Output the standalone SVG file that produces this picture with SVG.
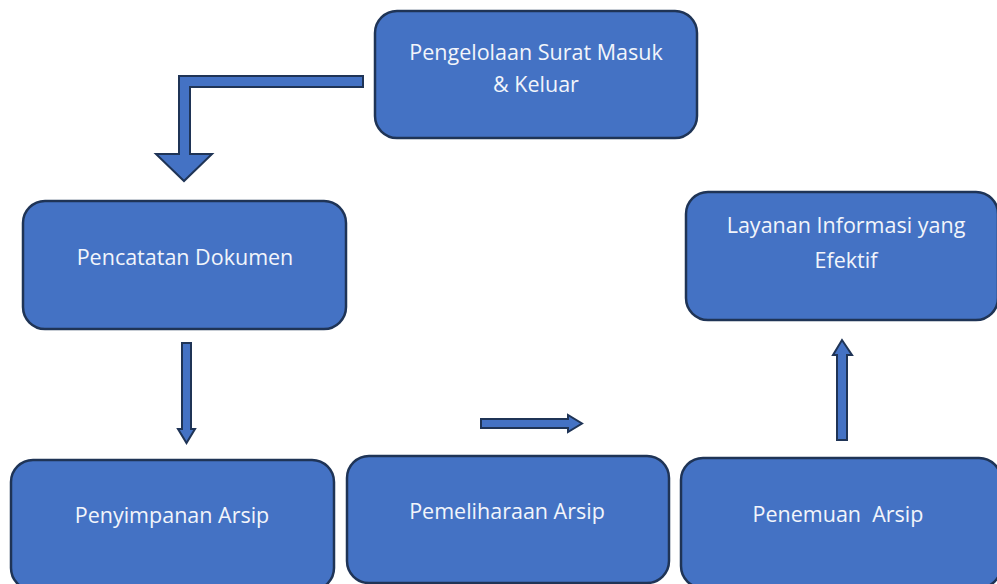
<svg xmlns="http://www.w3.org/2000/svg" width="997" height="584" viewBox="0 0 997 584">
<style>
.box{fill:#4472c4;stroke:#1f3456;stroke-width:2.5}
.arr{fill:#4472c4;stroke:#1f3456;stroke-width:2;stroke-linejoin:miter}
text{font-family:"Open Sans","Noto Sans","Liberation Sans",sans-serif;font-size:21.5px;fill:#f2f5fb;text-anchor:middle}
</style>
<rect width="997" height="584" fill="#ffffff"/>
<g id="connectors">
<path class="arr" d="M363,76 L363,87 L190,87 L190,154 L212,154 L184,181 L156,154 L179,154 L179,76 Z"/>
<path class="arr" d="M182,343 L191,343 L191,429 L195,429 L186.5,443 L178,429 L182,429 Z"/>
<path class="arr" d="M481,419 L568,419 L568,415 L582,423.5 L568,432 L568,428 L481,428 Z"/>
<path class="arr" d="M837,440 L837,355 L833,355 L842,340 L852,355 L847,355 L847,440 Z"/>
</g>
<g id="node-pengelolaan">
<rect class="box" x="375" y="11" width="322" height="127" rx="22"/>
<text x="536" y="60">Pengelolaan Surat Masuk</text>
<text x="536" y="92">&amp; Keluar</text>
</g>
<g id="node-pencatatan">
<rect class="box" x="23" y="201" width="323" height="128" rx="22"/>
<text x="185" y="265">Pencatatan Dokumen</text>
</g>
<g id="node-layanan">
<rect class="box" x="686" y="192" width="312" height="128" rx="22"/>
<text x="846" y="233">Layanan Informasi yang</text>
<text x="846" y="268">Efektif</text>
</g>
<g id="node-penyimpanan">
<rect class="box" x="11" y="460" width="323" height="130" rx="22"/>
<text x="172" y="523">Penyimpanan Arsip</text>
</g>
<g id="node-pemeliharaan">
<rect class="box" x="347" y="456" width="322" height="127" rx="22"/>
<text x="507" y="519">Pemeliharaan Arsip</text>
</g>
<g id="node-penemuan">
<rect class="box" x="681" y="458" width="320" height="130" rx="22"/>
<text x="838" y="522" xml:space="preserve">Penemuan  Arsip</text>
</g>
</svg>
